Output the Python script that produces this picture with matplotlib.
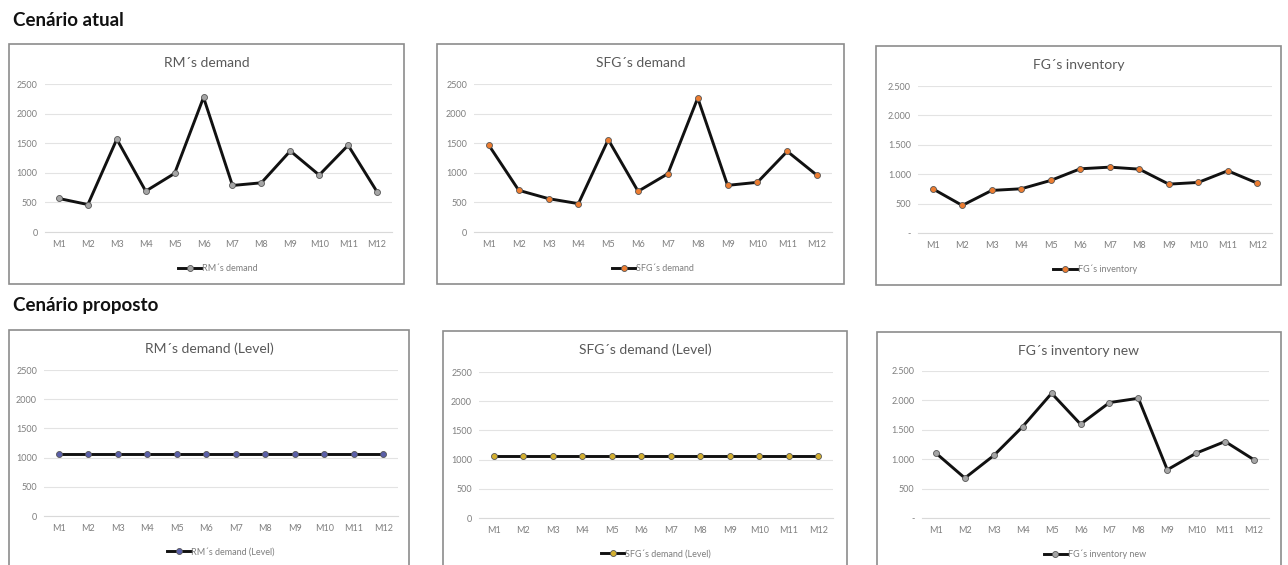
import matplotlib.pyplot as plt
from matplotlib.patches import Rectangle

plt.rcParams['font.family'] = ['Lato', 'DejaVu Sans']

months = ["M1", "M2", "M3", "M4", "M5", "M6", "M7", "M8", "M9", "M10", "M11", "M12"]

# cenário atual
rm_demand = [566, 464, 1567, 690, 990, 2274, 786, 831, 1369, 962, 1465, 679]
sfg_demand = [1464, 704, 563, 479, 1560, 687, 985, 2264, 788, 839, 1363, 957]
fg_inventory = [752, 469, 724, 752, 894, 1092, 1120, 1086, 831, 860, 1058, 848]

# cenário proposto
rm_level = [1054] * 12
sfg_level = [1054] * 12
fg_inventory_new = [1103, 679, 1063, 1555, 2121, 1595, 1963, 2036, 820, 1103, 1301, 990]

W, H = 1288, 565
fig = plt.figure(figsize=(W / 100, H / 100), dpi=100)


def box(x0, y0, x1, y1):
    # pixel box (top-left origin) -> figure fraction
    return [x0 / W, 1 - y1 / H, (x1 - x0) / W, (y1 - y0) / H]


def thousands(v):
    if v == 0:
        return "-"
    return f"{int(v):,}".replace(",", ".")


GRAY_TXT = "#7f7f7f"

panels = [
    # title, values, marker colour, frame, plot area, dotted ticks?
    ("RM´s demand", rm_demand, "#a5a5a5", (9, 44, 404, 284), (44.5, 84, 391.5, 232), False),
    ("SFG´s demand", sfg_demand, "#ed7d31", (437, 44, 844, 284), (474, 84, 832, 232), False),
    ("FG´s inventory", fg_inventory, "#ed7d31", (876, 46, 1281, 285), (918, 86, 1272, 233), True),
    ("RM´s demand (Level)", rm_level, "#5a5fa8", (9, 330, 409, 600), (44, 370, 398, 516), False),
    ("SFG´s demand (Level)", sfg_level, "#d4b030", (443, 331, 847, 600), (479, 372, 833, 518), False),
    ("FG´s inventory new", fg_inventory_new, "#a5a5a5", (877, 332, 1281, 600), (921.5, 371, 1268.5, 518), True),
]

for title, vals, mcol, frame, area, dotted in panels:
    fx0, fy0, fx1, fy1 = frame
    fig.patches.append(Rectangle((fx0 / W, 1 - fy1 / H), (fx1 - fx0) / W, (fy1 - fy0) / H,
                                 transform=fig.transFigure, fill=False,
                                 edgecolor="#8c8c8c", linewidth=1.2, zorder=0))

    ax = fig.add_axes(box(*area))
    x = range(len(months))
    ax.plot(x, vals, color="#111111", linewidth=2.1, marker="o", markersize=4.3,
            markerfacecolor=mcol, markeredgecolor="#555555", markeredgewidth=0.6,
            label=title, zorder=3)
    ax.set_xlim(-0.5, len(months) - 0.5)
    ax.set_ylim(0, 2500)
    ax.set_yticks([0, 500, 1000, 1500, 2000, 2500])
    if dotted:
        ax.set_yticklabels([thousands(v) for v in ax.get_yticks()])
    ax.set_xticks(list(x))
    ax.set_xticklabels(months)
    ax.grid(axis="y", color="#e3e3e3", linewidth=0.8)
    ax.set_axisbelow(True)
    for s in ["top", "right", "left"]:
        ax.spines[s].set_visible(False)
    ax.spines["bottom"].set_color("#d9d9d9")
    ax.tick_params(length=0, labelsize=6.5, colors=GRAY_TXT, pad=6)
    ax.tick_params(axis="y", pad=5)
    ax.set_facecolor("none")

    cx = (fx0 + fx1) / 2 / W
    fig.text(cx, 1 - (fy0 + 19) / H, title, ha="center", va="center",
             fontsize=10, color="#595959")
    ax.legend(loc="center", bbox_to_anchor=(0.5, -0.245), frameon=False,
              fontsize=6.5, labelcolor=GRAY_TXT, handlelength=2.6,
              handletextpad=0.1, borderpad=0)

fig.text(13 / W, 1 - 20 / H, "Cenário atual", ha="left", va="center",
         fontsize=13.5, fontweight="bold", color="#111111")
fig.text(13 / W, 1 - 305 / H, "Cenário proposto", ha="left", va="center",
         fontsize=13.5, fontweight="bold", color="#111111")

fig.savefig("out.png", dpi=100, facecolor="white")
